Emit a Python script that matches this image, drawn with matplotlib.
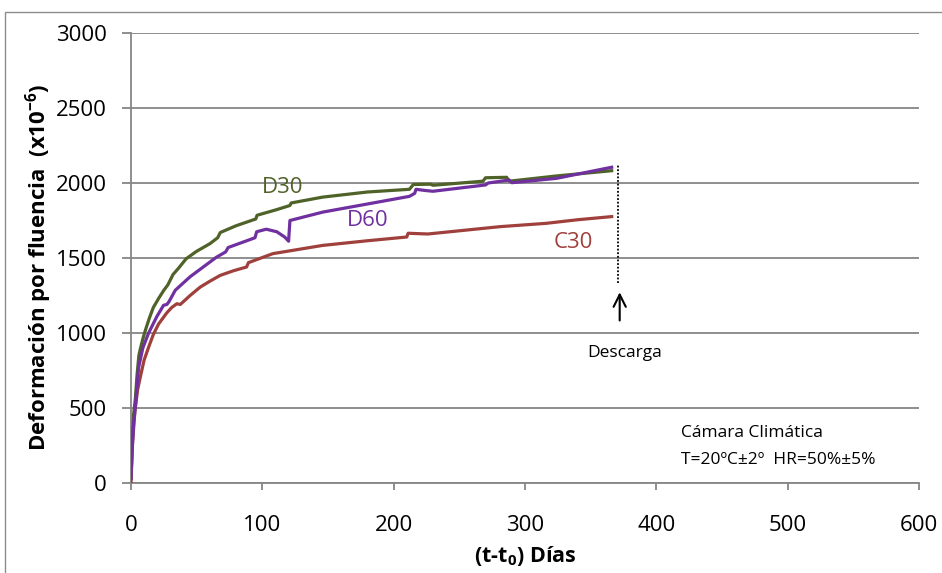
import matplotlib
matplotlib.use("Agg")
import matplotlib.pyplot as plt
from matplotlib.patches import Rectangle

plt.rcParams['font.family'] = ['Open Sans', 'DejaVu Sans']
plt.rcParams['mathtext.fontset'] = 'custom'
plt.rcParams['mathtext.rm'] = 'Open Sans'
plt.rcParams['mathtext.bf'] = 'Open Sans:bold'
plt.rcParams['mathtext.it'] = 'Open Sans:italic'

# Creep strain (x10^-6) versus time under load (days)
t_d30 = [0, 1, 2, 3.3, 4.6, 6, 7, 9, 11, 14, 17, 21, 25, 28, 32, 36, 42, 50, 60, 66, 68,
         80, 95, 96, 110, 121, 122, 146, 180, 212, 215, 228, 230, 268, 270, 286, 288, 324, 366]
e_d30 = [30, 300, 460, 560, 720, 850, 890, 960, 1020, 1100, 1170, 1230, 1285, 1320, 1390,
         1430, 1495, 1545, 1595, 1635, 1670, 1715, 1760, 1785, 1820, 1850, 1867, 1906, 1940,
         1958, 1990, 1992, 1985, 2012, 2035, 2038, 2012, 2047, 2082]

t_d60 = [0, 0.8, 2, 3.3, 5.8, 9, 13.4, 19.7, 24.8, 27.3, 29, 33.7, 45, 55, 65, 72, 74, 85,
         94.4, 95.7, 103, 111, 117, 120, 121, 146, 180, 212, 216, 217, 224, 230, 270, 272,
         288, 290, 324, 366]
e_d60 = [30, 200, 400, 510, 770, 900, 1000, 1110, 1185, 1190, 1210, 1285, 1375, 1440, 1505,
         1540, 1570, 1605, 1635, 1675, 1692, 1675, 1640, 1612, 1750, 1806, 1860, 1911, 1931,
         1958, 1950, 1945, 1987, 2000, 2020, 2002, 2031, 2105]

t_c30 = [0, 1, 3, 5, 7.1, 10, 13.4, 17, 21, 27.3, 31, 34.9, 37.5, 45, 52.7, 60, 67.9, 78,
         88, 89.4, 108, 128, 146, 180, 210, 211, 226, 281, 316, 340, 366]
e_c30 = [0, 250, 480, 620, 707, 820, 905, 990, 1060, 1135, 1170, 1195, 1190, 1250, 1306,
         1345, 1384, 1415, 1440, 1469, 1529, 1558, 1584, 1615, 1640, 1665, 1660, 1709, 1731,
         1755, 1776]

x_ticks = [0, 100, 200, 300, 400, 500, 600]
y_ticks = [0, 500, 1000, 1500, 2000, 2500, 3000]
t_unload = 370.6

c_d30 = '#4F6228'
c_d60 = '#7030A0'
c_c30 = '#A0403C'
grey = '#868686'

fig = plt.figure(figsize=(9.42, 5.73), dpi=100)
ax = fig.add_axes([131 / 942, 1 - 483 / 573, (919 - 131) / 942, (483 - 33) / 573])

# outer chart-area frame
fig.patches.append(Rectangle((5 / 942, -0.2), 1.2, 1.2 - 11.5 / 573,
                             transform=fig.transFigure, fill=False,
                             edgecolor='#8c8c8c', linewidth=1.0))

ax.plot(t_d30, e_d30, color=c_d30, lw=2.3, solid_joinstyle='round', zorder=3)
ax.plot(t_c30, e_c30, color=c_c30, lw=2.3, solid_joinstyle='round', zorder=3)
ax.plot(t_d60, e_d60, color=c_d60, lw=2.3, solid_joinstyle='round', zorder=4)

ax.set_xlim(0, 600)
ax.set_ylim(0, 3000)
ax.set_xticks(x_ticks)
ax.set_yticks(y_ticks)
ax.yaxis.grid(True, color=grey, lw=1.3)
ax.set_axisbelow(True)
for s in ('top', 'right'):
    ax.spines[s].set_visible(False)
for s in ('left', 'bottom'):
    ax.spines[s].set_color(grey)
    ax.spines[s].set_linewidth(1.3)
ax.tick_params(axis='y', direction='out', length=6.5, width=1.3, color=grey,
               labelsize=16, pad=11)
ax.tick_params(axis='x', direction='out', length=5, width=1.3, color=grey,
               labelsize=16, pad=18)

ax.set_ylabel(r'Deformación por fluencia  (x10$^{\mathbf{-6}}$)', fontsize=16,
              fontweight='bold', labelpad=1)
ax.yaxis.label.set_y((483 - 267) / 450)
ax.set_xlabel(r'(t-t$_{\mathbf{0}}$) Días', fontsize=15.5, fontweight='bold', labelpad=6)

ax.text(115.7, 1973, 'D30', color=c_d30, fontsize=16, ha='center', va='center')
ax.text(180.5, 1753, 'D60', color=c_d60, fontsize=16, ha='center', va='center')
ax.text(336.6, 1600, 'C30', color=c_c30, fontsize=16, ha='center', va='center')

# unloading marker
ax.plot([t_unload, t_unload], [1335, 2120], color='black', lw=1.3, ls=(0, (1, 1)))
ax.annotate('', xy=(t_unload + 1.5, 1290), xytext=(t_unload + 1.5, 1065),
            arrowprops=dict(arrowstyle='->', color='black', lw=1.5,
                            mutation_scale=22))
ax.text(376, 867, 'Descarga', fontsize=12.5, ha='center', va='center')

ax.text(419, 333, 'Cámara Climática', fontsize=12.5, ha='left', va='center')
ax.text(419, 153, 'T=20ºC±2º  HR=50%±5%', fontsize=12.5, ha='left', va='center')

fig.savefig('out.png', dpi=100)
